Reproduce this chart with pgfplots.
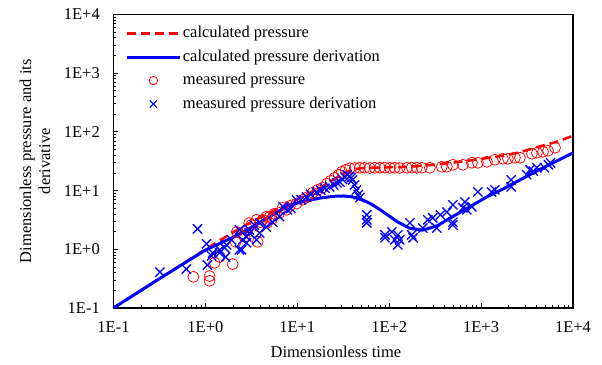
\documentclass[border=0pt]{standalone}
\usepackage{pgfplots}
\pgfplotsset{compat=1.18}
\usepackage{fontspec}
\setmainfont{Liberation Serif}

\pgfplotsset{
  lineleg/.style={legend image code/.code={\draw[##1] (0bp,0bp) -- (53bp,0bp);}},
  markleg/.style={legend image code/.code={\draw[##1] plot coordinates {(26.5bp,0bp)};}},
}

\pgfplotstableread{
x y
0.74 0.34
1.11 0.35
1.11 0.29
1.26 0.59
1.43 0.74
1.98 0.56
2.13 1.34
2.2 1.98
2.67 1.63
2.9 2.2
3.0 2.82
3.17 2.61
3.6 3.18
3.7 1.34
3.9 2.41
4.0 2.9
4.2 3.18
4.6 3.57
4.7 2.82
5.0 3.57
5.3 3.3
5.6 4.02
6.4 4.18
6.9 5.1
7.6 4.7
8.3 5.5
9.8 6.0
11.5 7.0
13 7.8
14.7 9.2
16.7 10.3
18.9 11.2
20.9 13.1
23.1 14.7
25.5 16.5
28.2 18.6
30.5 20.9
33.7 22.6
37.2 24.0
42.2 24.3
47.8 24.5
54.2 24.5
61.5 24.2
69.7 24.5
79 24.5
89.6 24.6
102 24.4
115 24.5
130 24.3
156 24.5
176 24.6
200 24.5
226 24.5
277 24.5
374 25.5
424 25.5
493 27.5
634 27.5
794 29.8
923 29.8
1156 31
1413 33.6
1727 34.9
1958 34.9
2335 36.3
2646 36.3
3574 42.5
4053 44.2
4713 45.9
5343 47.8
6370 53.7
}\measp

\pgfplotstableread{
x y
0.32 0.41
0.62 0.46
0.82 2.23
1.03 1.24
1.05 0.54
1.17 0.77
1.2 0.87
1.43 0.98
1.43 0.87
1.62 1.06
1.66 0.74
1.70 1.19
1.93 1.45
2.35 2.14
2.35 0.98
2.48 0.98
2.54 1.45
2.8 1.29
2.8 1.63
3.0 2.14
3.0 1.9
3.4 2.6
3.6 1.45
3.9 1.9
3.9 2.8
4.6 2.4
5.4 2.9
6.4 3.6
7.0 5.3
7.8 4.7
8.5 5.0
9.8 6.9
11 7.0
12.6 7.8
14 8.6
16.2 9.5
18 10.2
20 11
22.5 11.6
25 12.5
27 13.5
29 14
31 15.5
33 17
35 18.6
37 17.5
38.5 16.5
40 15.2
42 12.5
44 10.2
46 8.5
48 7.6
57 3.86
57 3.18
57 2.82
90 1.76
90 1.57
107 1.98
115 1.45
124 1.76
124 1.19
130 1.45
168 2.82
176 1.76
182 1.57
232 2.3
263 3.18
298 3.43
330 2.3
360 3.86
425 4.3
493 5.7
493 2.9
493 2.6
634 5.1
667 6.4
700 4.7
794 5.3
923 9.5
1300 9.5
1413 10.3
2123 15.2
2123 11.6
3140 18.6
3400 22.6
3700 21.5
4050 24.6
4900 24.5
5400 27.5
5700 29.8
}\measd

\pgfplotstableread{
x y
0.1 0.1
0.3 0.3
1 1
2 1.95
3 2.8
5 4.2
8 6.0
12 8.3
18 11.3
25 15.5
30 18.5
35 21
40 22.8
50 24.2
70 24.6
100 25
150 25.3
200 26
300 27.5
500 30
800 33
1600 38.5
2650 45
4050 55
6700 68
10000 86
}\calcp

\pgfplotstableread{
x y
0.1 0.1
0.3 0.3
1 0.97
2 1.6
3 2.25
5 3.6
8 5.6
12 6.6
18 7.5
25 8.0
32 8.1
40 7.8
45 7.4
55 6.6
65 5.8
80 4.7
100 3.7
120 3.0
165 2.3
230 2.12
330 2.5
490 3.6
755 5.3
1150 7.8
1740 10.7
2650 15.2
4050 21.7
6050 29.6
10000 44
}\calcd

\begin{document}
\fontsize{16.5bp}{19bp}\selectfont
\begin{tikzpicture}[font=\fontsize{16.5bp}{19bp}\selectfont]
\begin{axis}[
  scale only axis, width=459.5bp, height=293.5bp,
  xmode=log, ymode=log,
  xmin=0.1, xmax=1e4, ymin=0.1, ymax=1e4,
  axis line style={line width=1.2bp},
  tick style={black, line width=0.8bp},
  tick align=inside,
  xtick pos=left, ytick pos=left,
  major tick length=5bp, minor tick length=3bp,
  xtick={0.1,1,10,100,1000,10000},
  xticklabels={1E-1,1E+0,1E+1,1E+2,1E+3,1E+4},
  ytick={0.1,1,10,100,1000,10000},
  yticklabels={1E-1,1E+0,1E+1,1E+2,1E+3,1E+4},
  minor xtick={0.2,0.3,0.4,0.5,0.6,0.7,0.8,0.9,2,3,4,5,6,7,8,9,20,30,40,50,60,70,80,90,200,300,400,500,600,700,800,900,2000,3000,4000,5000,6000,7000,8000,9000},
  minor ytick={0.2,0.3,0.4,0.5,0.6,0.7,0.8,0.9,2,3,4,5,6,7,8,9,20,30,40,50,60,70,80,90,200,300,400,500,600,700,800,900,2000,3000,4000,5000,6000,7000,8000,9000},
  xticklabel style={yshift=-8bp},
  yticklabel style={xshift=-8bp},
  xlabel={Dimensionless time},
  ylabel={Dimensionless pressure and its\\derivative},
  every axis x label/.style={at={(axis description cs:0.484,-0.15)}, anchor=center},
  every axis y label/.style={at={(axis description cs:-0.1708,0.5)}, anchor=center, rotate=90, align=center},
  legend style={at={(axis description cs:0.019,0.975)}, anchor=north west, draw=none, fill=none,
    row sep=4.5bp, nodes={inner sep=1.5bp, text height=12bp, text depth=4bp}},
  legend cell align=left,
  clip=false,
]
\addplot[only marks, mark=o, red, mark size=5.5bp, mark options={line width=0.75bp}, forget plot] table {\measp};
\addplot[only marks, mark=x, blue, mark size=6.5bp, mark options={line width=1.3bp}, forget plot] table {\measd};
\addplot[red, line width=2.5bp, dash pattern=on 9bp off 5bp, lineleg] table {\calcp};
\addlegendentry{calculated pressure}
\addplot[blue, line width=3bp, lineleg] table {\calcd};
\addlegendentry{calculated pressure derivation}
\addlegendimage{only marks, mark=o, red, mark size=4.2bp, mark options={line width=0.8bp}, markleg}
\addlegendentry{measured pressure}
\addlegendimage{only marks, mark=x, blue, mark size=5bp, mark options={line width=1.1bp}, markleg}
\addlegendentry{measured pressure derivation}
\coordinate (bl) at (rel axis cs:0,0);
\coordinate (tr) at (rel axis cs:1,1);
\end{axis}
\pgfresetboundingbox
\path[use as bounding box] ([shift={(-113.5bp,-57bp)}]bl) rectangle ([shift={(29bp,14.5bp)}]tr);
\end{tikzpicture}
\end{document}
